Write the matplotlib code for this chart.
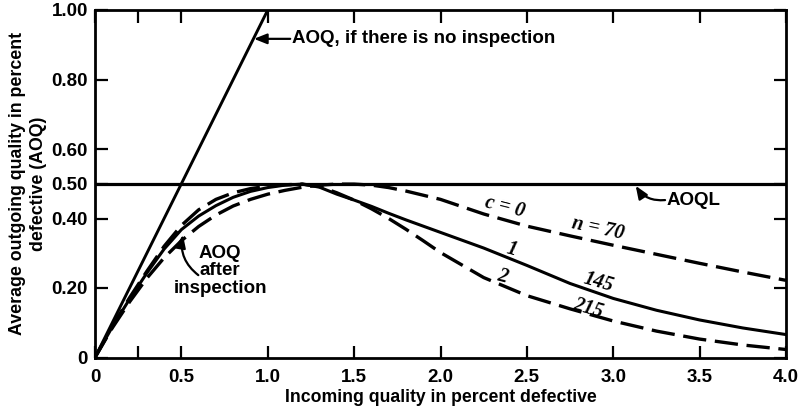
import matplotlib
matplotlib.use('Agg')
import matplotlib.pyplot as plt

# ---------------- data ----------------
# incoming quality (percent defective) at which curves were read
incoming = [0, 0.1, 0.2, 0.3, 0.4, 0.5, 0.6, 0.7, 0.8, 0.9,
            1.0, 1.1, 1.2, 1.3, 1.4, 1.5, 1.6, 1.7, 1.8, 1.9,
            2.0, 2.25, 2.5, 2.75, 3.0, 3.25, 3.5, 3.75, 4.0]
# AOQ after inspection, c = 0, n = 70 (dashed)
aoq_c0 = [0, 0.085, 0.160, 0.228, 0.287, 0.336, 0.377, 0.410, 0.436, 0.455,
          0.470, 0.481, 0.490, 0.496, 0.499, 0.499, 0.496, 0.489, 0.479, 0.467,
          0.455, 0.413, 0.378, 0.350, 0.323, 0.297, 0.271, 0.246, 0.222]
# AOQ after inspection, c = 1, n = 145 (solid)
aoq_c1 = [0, 0.088, 0.168, 0.243, 0.312, 0.368, 0.407, 0.437, 0.461, 0.478,
          0.489, 0.496, 0.499, 0.490, 0.470, 0.453, 0.435, 0.415, 0.396, 0.378,
          0.360, 0.315, 0.265, 0.213, 0.170, 0.136, 0.108, 0.085, 0.066]
# AOQ after inspection, c = 2, n = 215 (dashed)
aoq_c2 = [0, 0.090, 0.172, 0.248, 0.320, 0.380, 0.425, 0.455, 0.474, 0.486,
          0.493, 0.497, 0.499, 0.492, 0.474, 0.453, 0.428, 0.400, 0.369, 0.336,
          0.302, 0.230, 0.178, 0.140, 0.105, 0.076, 0.053, 0.036, 0.023]
# AOQ if there is no inspection (AOQ = incoming quality)
no_insp_x = [0, 1.0]
no_insp_y = [0, 1.0]
# average outgoing quality limit
aoql = 0.50

xticks = [0, 0.25, 0.5, 1.0, 1.5, 2.0, 2.5, 3.0, 3.5, 4.0]
xticklabels = ['0', '', '0.5', '1.0', '1.5', '2.0', '2.5', '3.0', '3.5', '4.0']
yticks = [0, 0.20, 0.40, 0.50, 0.60, 0.80, 1.00]
yticklabels = ['0', '0.20', '0.40', '0.50', '0.60', '0.80', '1.00']

# ---------------- figure ----------------
plt.rcParams['font.family'] = ['Liberation Sans', 'DejaVu Sans']
plt.rcParams['font.weight'] = 'bold'

W, H = 802, 408
fig = plt.figure(figsize=(W / 100, H / 100), dpi=100)
ax = fig.add_axes([95 / W, 1 - 357.5 / H, 691 / W, 347.5 / H])

dash = (7, 2.6)
ax.plot(no_insp_x, no_insp_y, color='black', lw=2.1, solid_capstyle='butt')
ax.axhline(aoql, color='black', lw=2.3)
ax.plot(incoming, aoq_c0, color='black', lw=2.4, dashes=dash)
ax.plot(incoming, aoq_c1, color='black', lw=2.2)
ax.plot(incoming, aoq_c2, color='black', lw=2.4, dashes=dash)

ax.set_xlim(0, 4.0)
ax.set_ylim(0, 1.0)
ax.set_xticks(xticks)
ax.set_xticklabels(xticklabels)
ax.set_yticks(yticks)
ax.set_yticklabels(yticklabels)
ax.tick_params(direction='in', length=9, width=1.6, top=True, right=True,
               labelsize=13.5)
ax.tick_params(axis='x', pad=8)
ax.tick_params(axis='y', pad=5)
for lab in ax.get_xticklabels() + ax.get_yticklabels():
    lab.set_fontweight('bold')
for s in ax.spines.values():
    s.set_linewidth(2.0)

ax.set_xlabel('Incoming quality in percent defective', fontsize=12.7,
              fontweight='bold')
ax.xaxis.set_label_coords(0.5, -0.09)
ax.set_ylabel('Average outgoing quality in percent\ndefective (AOQ)',
              fontsize=12.8, fontweight='bold', linespacing=1.3)
ax.yaxis.set_label_coords(-0.069, 0.5)

arrow_kw = dict(arrowstyle='-|>,head_length=0.55,head_width=0.22',
                color='black', lw=1.6, shrinkA=0, shrinkB=0,
                mutation_scale=14)

# AOQ, if there is no inspection
ax.annotate('', xy=(0.92, 0.917), xytext=(1.13, 0.917),
            arrowprops=dict(arrow_kw, connectionstyle='arc3,rad=0'))
ax.text(1.14, 0.917, 'AOQ, if there is no inspection', fontsize=13.5,
        fontweight='bold', ha='left', va='center')

# AOQL
ax.annotate('', xy=(3.13, 0.494), xytext=(3.30, 0.453),
            arrowprops=dict(arrow_kw, connectionstyle='arc3,rad=-0.3'))
ax.text(3.31, 0.453, 'AOQL', fontsize=13.5, fontweight='bold',
        ha='left', va='center')

# AOQ after inspection
ax.annotate('', xy=(0.509, 0.353), xytext=(0.598, 0.237),
            arrowprops=dict(arrow_kw, connectionstyle='arc3,rad=-0.3'))
ax.text(0.724, 0.249, 'AOQ\nafter\ninspection', fontsize=13.5,
        fontweight='bold', ha='center', va='center', linespacing=1.05)

# curve labels
lab_kw = dict(fontsize=14.5, style='italic', fontweight='bold',
              ha='center', va='center',
              family=['Liberation Serif', 'DejaVu Serif'])
ax.text(2.373, 0.433, 'c = 0', rotation=-14, **lab_kw)
ax.text(2.912, 0.370, 'n = 70', rotation=-12, **lab_kw)
ax.text(2.414, 0.312, '1', rotation=-15, **lab_kw)
ax.text(2.912, 0.217, '145', rotation=-16, **lab_kw)
ax.text(2.356, 0.232, '2', rotation=-15, **lab_kw)
ax.text(2.854, 0.142, '215', rotation=-16, **lab_kw)

fig.savefig('out.png', dpi=100)
